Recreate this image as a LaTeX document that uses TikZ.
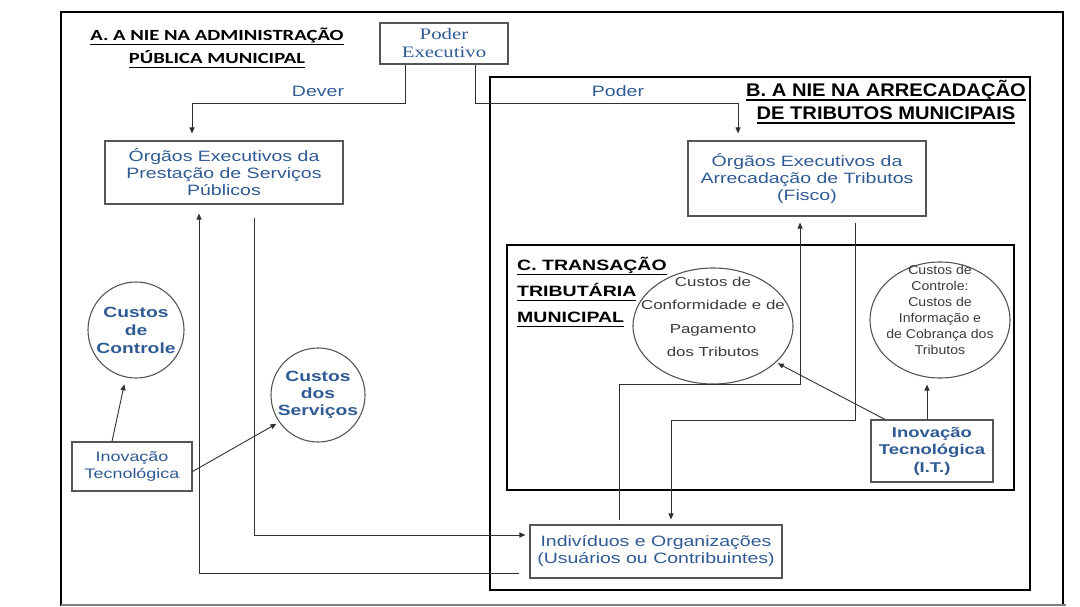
\documentclass[tikz,border=0pt]{standalone}
\usepackage{fontspec}
\setmainfont{Liberation Sans}
% widened faces, as the text in this chart is set
\newfontfamily\wide[FakeStretch=1.3]{Liberation Sans}
\newfontfamily\wideB[FakeStretch=1.1]{Liberation Sans}
\newfontfamily\wideS[FakeStretch=1.1]{Liberation Sans}
\newfontfamily\calibw[FakeStretch=1.33]{Carlito}
\newfontfamily\timesw[FakeStretch=1.3]{Liberation Serif}
\usetikzlibrary{arrows.meta,shapes.geometric}
\definecolor{txtblue}{HTML}{2F5A94}
\definecolor{boxgray}{HTML}{555555}
\definecolor{linegray}{HTML}{303030}
\definecolor{inkgray}{HTML}{3A3A3A}

% heavy underline for the section headings
\newcommand\ulin[1]{\setbox0\hbox{#1}\rlap{\raisebox{-4.6pt}{\rule{\wd0}{1.5pt}}}\box0}

\tikzset{
  box/.style={draw=boxgray, line width=1.1pt, inner sep=0pt, align=center, text=txtblue},
  circ/.style={draw=boxgray, line width=1.1pt, circle, inner sep=0pt, align=center, text=txtblue},
  oval/.style={draw=boxgray, line width=1.1pt, ellipse, inner sep=0pt},
  conn/.style={draw=linegray, line width=0.9pt},
  arr/.style={conn, -{Triangle[length=6pt,width=5pt]}},
  frame/.style={draw=black, line width=2.2pt},
  heading/.style={text=black, inner sep=0pt},
  fs/.style 2 args={font=\wide\fontsize{#1}{#2}\selectfont},
}

\begin{document}
\begin{tikzpicture}[x=1pt,y=-1pt]
\useasboundingbox (0,0) rectangle (1080,607);

% frames
\draw[frame, line width=2pt] (61,606) -- (61,12) -- (1063,12) -- (1063,606);
\draw[draw=gray, line width=1.4pt] (61,605) -- (1066,605);
\draw[frame, line width=2.8pt] (490,77) rectangle (1030,590);
\draw[frame, line width=2pt] (507,245) rectangle (1014,490);

% headings
\node[heading, align=center, font=\calibw\bfseries\fontsize{15.5}{23}\selectfont] (tA) at (217,48)
  {\ulin{A. A NIE NA ADMINISTRAÇÃO}\\\ulin{PÚBLICA MUNICIPAL}};
\node[heading, align=center, font=\wideB\bfseries\fontsize{18.3}{23}\selectfont] (tB) at (886,102)
  {\ulin{B. A NIE NA ARRECADAÇÃO}\\\ulin{DE TRIBUTOS MUNICIPAIS}};
\node[heading, align=left, anchor=north west, font=\wide\bfseries\fontsize{15}{26}\selectfont] (tC) at (517,257)
  {\ulin{C. TRANSAÇÃO}\\\ulin{TRIBUTÁRIA}\\\ulin{MUNICIPAL}};

% boxes
\node[box, minimum width=128pt, minimum height=41pt, font=\timesw\fontsize{16}{18}\selectfont] (pe) at (444,43.5)
  {Poder\\Executivo};
\node[box, minimum width=238pt, minimum height=63pt, fs={15}{17}] (og) at (224,172.5)
  {Órgãos Executivos da\\Prestação de Serviços\\Públicos};
\node[box, minimum width=238pt, minimum height=75pt, fs={15}{17}] (fi) at (807,178.5)
  {Órgãos Executivos da\\Arrecadação de Tributos\\(Fisco)};
\node[box, minimum width=252pt, minimum height=53pt, fs={15}{17}] (ind) at (656,551.5)
  {Indivíduos e Organizações\\(Usuários ou Contribuintes)};
\node[box, minimum width=120pt, minimum height=49pt, fs={13.8}{17}] (itL) at (132,466.5)
  {Inovação\\Tecnológica};
\node[box, minimum width=122pt, minimum height=62pt, font=\wide\bfseries\fontsize{14.2}{17.5}\selectfont] (itR) at (932,451)
  {Inovação\\Tecnológica\\(I.T.)};

% cost circles and ellipses
\node[circ, minimum size=96pt, font=\wide\bfseries\fontsize{14.8}{18}\selectfont] (ccL) at (136,330)
  {Custos\\de\\Controle};
\node[circ, minimum size=94pt, font=\wide\bfseries\fontsize{14.8}{17}\selectfont] (csL) at (318,395)
  {Custos\\dos\\Serviços};
\node[oval, minimum width=160pt, minimum height=116pt] (el1) at (713,326) {};
\node[text=inkgray, align=center, inner sep=0pt, fs={13}{23.5}] (el1t) at (713,317)
  {Custos de\\Conformidade e de\\Pagamento\\dos Tributos};
\node[oval, minimum width=140pt, minimum height=116pt] (el2) at (940,320) {};
\node[text=inkgray, align=center, inner sep=0pt, font=\wideS\fontsize{12.8}{16}\selectfont] (el2t) at (940,310)
  {Custos de\\Controle:\\Custos de\\Informação e\\de Cobrança dos\\Tributos};

% labels
\node[text=txtblue, inner sep=0pt, fs={15}{17}] (lDever) at (318,91) {Dever};
\node[text=txtblue, inner sep=0pt, fs={15}{17}] (lPoder) at (618,91) {Poder};

% connectors
\draw[arr, shorten >=7pt] ([xshift=-39pt]pe.south) -- ++(0,39) -| ([xshift=-32pt]og.north);
\draw[arr, shorten >=7pt] ([xshift=31pt]pe.south) -- ++(0,39) -| ([xshift=-69pt]fi.north);

\draw[arr, shorten >=7pt] ([xshift=-20pt]itL.north) -- (ccL);
\draw[arr, shorten >=3pt] ([yshift=-5pt]itL.east) -- (csL.215);

\draw[arr, shorten >=9pt] ([xshift=-10pt,yshift=-21.5pt]ind.west) -| ([xshift=-25pt]og.south);
\draw[arr, shorten <=13pt] ([xshift=30pt]og.south) |- ([xshift=-4pt,yshift=16.5pt]ind.west);

\draw[arr, shorten >=6pt] ([xshift=-37pt,yshift=4pt]ind.north) -- ++(0,-136) -| ([xshift=-7pt]fi.south);
\draw[arr, shorten >=5pt] ([xshift=48pt,yshift=-6pt]fi.south) -- ++(0,198) -| ([xshift=15pt]ind.north);

\draw[arr, shorten >=6pt] ([xshift=-5pt]itR.north) -- ([xshift=-5pt]itR.north |- el2.south);
\draw[arr, shorten >=2pt] ([xshift=-47pt]itR.north) -- (el1.-30);
\end{tikzpicture}
\end{document}
